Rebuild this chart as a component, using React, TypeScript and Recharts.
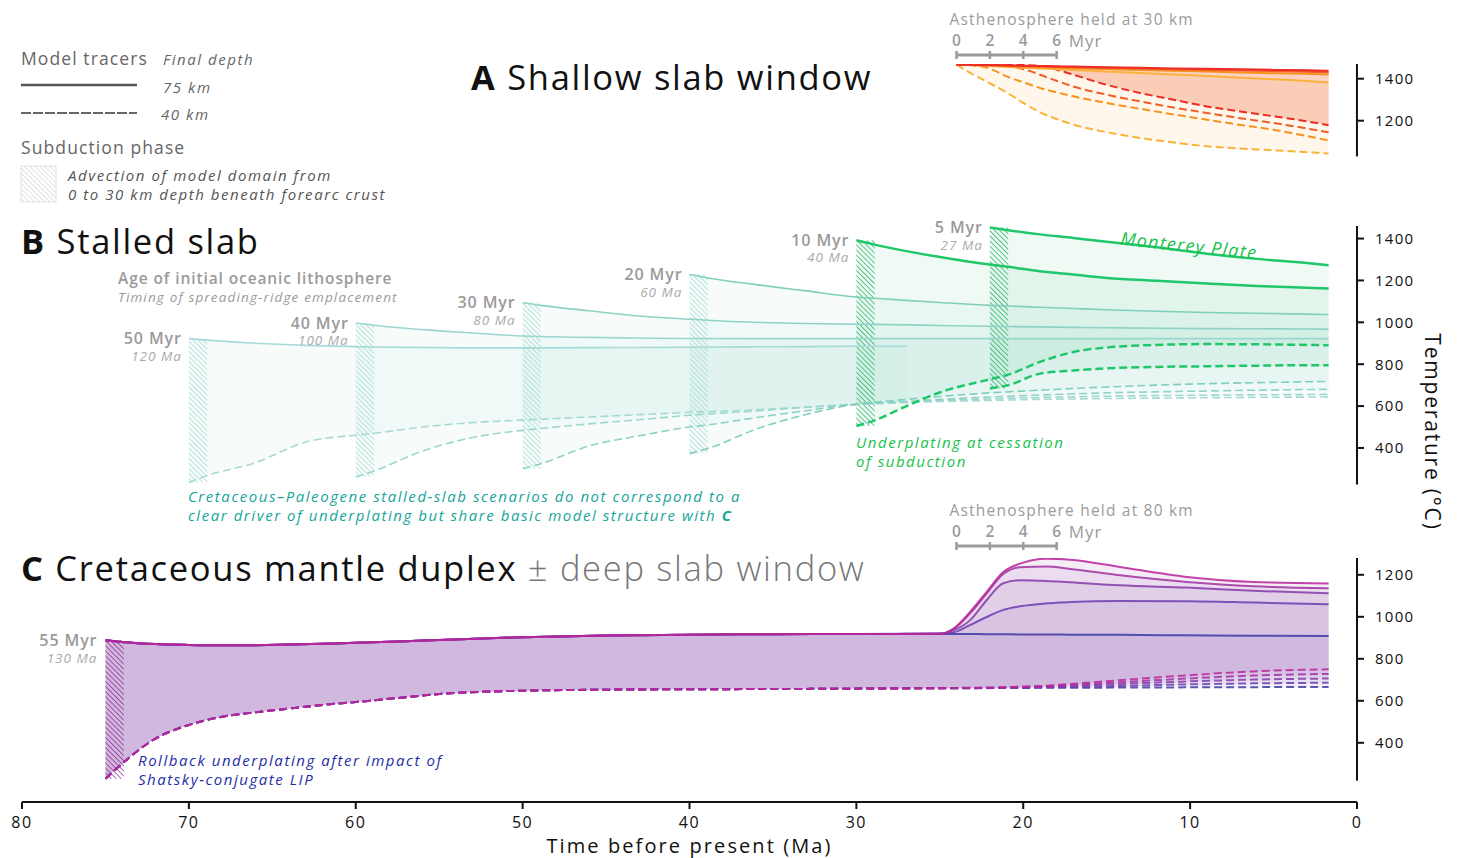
import React from "react";
import { Area, ComposedChart, Line, ReferenceArea, XAxis, YAxis } from "recharts";

const FONT = "'Open Sans', 'Noto Sans', sans-serif";
const W = 1459;
const H = 858;
const PLOT_L = 22;
const PLOT_R = 1357;
const AXIS_W = 80;
const AXIS_Y = 801;
const ADVECT = 1.1; // Myr spent advecting the model domain from 0 to 30 km

const X_TICKS = [80, 70, 60, 50, 40, 30, 20, 10, 0];

// ---- A: shallow slab window (asthenosphere held at 30 km) ----
const A_TIME = [24, 23, 22, 21, 20, 19, 18, 17, 15, 13, 11, 9, 7, 5, 3, 1.7];
const A_RED_75 = [1467, 1466, 1465, 1464, 1462, 1461, 1459, 1458, 1455, 1452, 1449, 1447, 1445, 1442, 1440, 1438];
const A_REDOR_75 = [1467, 1465, 1464, 1462, 1460, 1458, 1456, 1454, 1451, 1448, 1445, 1442, 1439, 1436, 1433, 1430];
const A_ORANGE_75 = [1467, 1465, 1462, 1460, 1457, 1455, 1452, 1450, 1446, 1442, 1438, 1434, 1430, 1426, 1423, 1420];
const A_YELLOW_75 = [1467, 1464, 1460, 1456, 1452, 1449, 1445, 1441, 1434, 1427, 1420, 1413, 1405, 1397, 1389, 1382];
const A_RED_40 = [1467, 1467, 1466, 1466, 1465, 1460, 1443, 1419, 1371, 1332, 1300, 1268, 1244, 1221, 1197, 1178];
const A_REDOR_40 = [1467, 1466, 1465, 1460, 1446, 1419, 1390, 1363, 1324, 1292, 1263, 1237, 1212, 1189, 1163, 1144];
const A_ORANGE_40 = [1467, 1463, 1448, 1411, 1383, 1356, 1335, 1316, 1284, 1257, 1230, 1205, 1180, 1157, 1127, 1106];
const A_YELLOW_40 = [1467, 1420, 1378, 1335, 1285, 1240, 1208, 1181, 1145, 1118, 1096, 1078, 1067, 1059, 1050, 1044];

// ---- B: stalled slab, one scenario per initial plate age ----
const B_TIME = [70, 68.9, 66, 63, 60, 58.9, 56, 53, 50, 48.9, 46, 43, 40, 38.9, 36, 33, 30, 28.9, 27, 25, 22, 20.9, 19, 17, 15, 12, 9, 6, 3, 1.7];
const n = (k: number) => Array(k).fill(null);
const B50_75 = [922, 915, 900, 890, 884, 882, 880, 878, 878, 878, 879, 880, 881, 882, 883, 884, 886, 886, 886, ...n(11)];
const B50_40 = [235, 268, 330, 428, 461, 470, 500, 521, 533, 537, 548, 559, 570, 573, 583, 595, 607, 611, 617, 622, 627, 629, 632, 634, 636, 638, 640, 642, 643, 644];
const B40_75 = [...n(4), 997, 986, 965, 949, 935, 932, 928, 925, 923, 923, 922, 922, 922, 922, 922, 922, 922, 922, 922, 922, 922, 922, 922, 922, 922, 922];
const B40_40 = [...n(4), 261, 290, 385, 450, 484, 493, 515, 535, 556, 562, 577, 594, 609, 613, 620, 627, 634, 637, 641, 644, 647, 650, 652, 654, 655, 656];
const B30_75 = [...n(8), 1094, 1081, 1055, 1030, 1015, 1010, 1000, 994, 991, 990, 988, 985, 981, 980, 978, 976, 974, 972, 970, 969, 968, 967];
const B30_40 = [...n(8), 301, 325, 410, 458, 500, 510, 545, 578, 609, 614, 622, 632, 643, 647, 653, 658, 663, 668, 672, 676, 679, 680];
const B20_75 = [...n(12), 1228, 1212, 1180, 1150, 1121, 1115, 1105, 1095, 1081, 1078, 1072, 1066, 1060, 1053, 1047, 1043, 1039, 1037];
const B20_40 = [...n(12), 373, 397, 490, 560, 609, 618, 632, 646, 663, 668, 676, 684, 691, 700, 707, 712, 716, 718];
const B10_75 = [...n(16), 1392, 1371, 1340, 1312, 1276, 1265, 1244, 1228, 1212, 1198, 1185, 1174, 1165, 1161];
const B10_40 = [...n(16), 505, 532, 600, 665, 728, 750, 811, 858, 880, 892, 896, 895, 892, 890];
const B5_75 = [...n(20), 1453, 1440, 1420, 1403, 1385, 1358, 1328, 1303, 1283, 1272];
const B5_40 = [...n(20), 684, 700, 755, 770, 780, 787, 790, 793, 795, 795];

const B_STARTS = [70, 60, 50, 40, 30, 22];
const B_AGES = ["50 Myr", "40 Myr", "30 Myr", "20 Myr", "10 Myr", "5 Myr"];
const B_RIDGES = ["120 Ma", "100 Ma", "80 Ma", "60 Ma", "40 Ma", "27 Ma"];

// ---- C: Cretaceous mantle duplex, shared trunk then five slab-window runs ----
const C_TRUNK_TIME = [75, 74, 72, 70, 68, 66, 64, 62, 60, 57, 55, 50, 45, 40, 35, 30];
const C_TRUNK_75 = [888, 880, 870, 866, 864, 865, 868, 872, 876, 884, 890, 903, 911, 915, 917, 918];
const C_TRUNK_40 = [229, 301, 420, 485, 524, 545, 563, 580, 594, 617, 632, 648, 653, 655, 656, 658];
const C_SPLIT_TIME = [25, 24.2, 23.2, 22.2, 21.2, 20.2, 18.6, 17.2, 14.2, 10.2, 6.2, 1.7];
const C1_75 = [919, 943, 1022, 1118, 1213, 1253, 1277, 1272, 1237, 1190, 1166, 1158];
const C2_75 = [919, 940, 1015, 1110, 1204, 1236, 1239, 1228, 1198, 1166, 1145, 1136];
const C3_75 = [919, 935, 983, 1079, 1160, 1174, 1171, 1164, 1150, 1139, 1124, 1112];
const C4_75 = [919, 925, 960, 999, 1033, 1050, 1064, 1070, 1075, 1074, 1068, 1060];
const C5_75 = [919, 918, 918, 917, 917, 916, 916, 915, 914, 912, 910, 909];
const C1_40 = [660, 661, 662, 663, 665, 667, 672, 680, 698, 721, 740, 750];
const C2_40 = [660, 661, 661, 662, 663, 665, 669, 675, 688, 706, 720, 728];
const C3_40 = [660, 660, 661, 661, 662, 664, 666, 670, 680, 692, 701, 706];
const C4_40 = [660, 660, 660, 661, 661, 662, 664, 666, 671, 678, 683, 686];
const C5_40 = [660, 660, 660, 660, 661, 661, 662, 662, 663, 664, 665, 666];

// panel geometry
const A_DOM = [1030, 1470];
const A_TOP = 64.3;
const A_H = 92.4;
const B_DOM = [225, 1460];
const B_TOP = 225.7;
const B_H = 258.6;
const C_DOM = [220, 1280];
const C_TOP = 557.7;
const C_H = 222.6;

const xPx = (ma: number) => PLOT_L + ((80 - ma) / 80) * (PLOT_R - PLOT_L);
const yPx = (t: number, top: number, h: number, dom: number[]) => top + ((dom[1] - t) / (dom[1] - dom[0])) * h;
const yB = (t: number) => yPx(t, B_TOP, B_H, B_DOM);
const yC = (t: number) => yPx(t, C_TOP, C_H, C_DOM);

function table(time: number[], cols: Record<string, (number | null)[]>) {
  return time.map((ma, i) => {
    const row: any = { ma };
    for (const k in cols) row[k] = cols[k][i] ?? null;
    return row;
  });
}

const range = (lo: string, hi: string) => (d: any) =>
  d[lo] == null || d[hi] == null ? null : [d[lo], d[hi]];

const A_DATA = table(A_TIME, {
  r75: A_RED_75, ro75: A_REDOR_75, o75: A_ORANGE_75, y75: A_YELLOW_75,
  r40: A_RED_40, ro40: A_REDOR_40, o40: A_ORANGE_40, y40: A_YELLOW_40,
});

const B_DATA = table(B_TIME, {
  b50t: B50_75, b50b: B50_40, b40t: B40_75, b40b: B40_40, b30t: B30_75, b30b: B30_40,
  b20t: B20_75, b20b: B20_40, b10t: B10_75, b10b: B10_40, b5t: B5_75, b5b: B5_40,
});

const C_TIME = [...C_TRUNK_TIME, ...C_SPLIT_TIME];
const C_DATA = table(C_TIME, {
  c1t: [...C_TRUNK_75, ...C1_75], c2t: [...C_TRUNK_75, ...C2_75], c3t: [...C_TRUNK_75, ...C3_75],
  c4t: [...C_TRUNK_75, ...C4_75], c5t: [...C_TRUNK_75, ...C5_75],
  c1b: [...C_TRUNK_40, ...C1_40], c2b: [...C_TRUNK_40, ...C2_40], c3b: [...C_TRUNK_40, ...C3_40],
  c4b: [...C_TRUNK_40, ...C4_40], c5b: [...C_TRUNK_40, ...C5_40],
});

const firstOf = (a: (number | null)[]) => a.find((v) => v != null) as number;

function trace(key: string, color: string, width: number, dashed = false, opacity = 1) {
  return (
    <Line
      key={key}
      dataKey={key}
      type="monotone"
      stroke={color}
      strokeWidth={width}
      strokeOpacity={opacity}
      strokeDasharray={dashed ? "8 4" : undefined}
      dot={false}
      activeDot={false}
      connectNulls={false}
      isAnimationActive={false}
    />
  );
}

function band(key: string, lo: string, hi: string, color: string, opacity: number) {
  return (
    <Area
      key={key}
      dataKey={range(lo, hi)}
      type="monotone"
      stroke="none"
      fill={color}
      fillOpacity={opacity}
      activeDot={false}
      connectNulls={false}
      isAnimationActive={false}
    />
  );
}

function hatch(key: string, start: number, lo: number, hi: number, pattern: string) {
  return (
    <ReferenceArea
      key={key}
      x1={start}
      x2={start - ADVECT}
      y1={lo}
      y2={hi}
      fill={`url(#${pattern})`}
      fillOpacity={1}
      stroke="none"
      ifOverflow="visible"
    />
  );
}

function Panel({ top, plotH, domain, ticks, data, children }: any) {
  const pad = 12;
  return (
    <div style={{ position: "absolute", left: 0, top: top - pad }}>
      <ComposedChart
        width={W}
        height={plotH + pad * 2}
        data={data}
        margin={{ top: pad, right: W - PLOT_R - AXIS_W, bottom: pad, left: PLOT_L }}
      >
        <XAxis dataKey="ma" type="number" domain={[0, 80]} reversed hide allowDataOverflow />
        <YAxis
          orientation="right"
          type="number"
          domain={domain}
          ticks={ticks}
          allowDataOverflow
          width={AXIS_W}
          axisLine={{ stroke: "#111", strokeWidth: 2 }}
          tickLine={{ stroke: "#111", strokeWidth: 2 }}
          tickSize={7}
          tickMargin={11}
          tick={{ fill: "#111", fontSize: 15, fontFamily: FONT, letterSpacing: 1.3 }}
        />
        {children}
      </ComposedChart>
    </div>
  );
}

const A_COL = { r: "#ee2b24", ro: "#f15d2a", o: "#f7921e", y: "#fbb23a" };
const B_TEAL = ["#a6dad6", "#9bd7cf", "#8ed3c6", "#80cfbb"];
const B_GREEN = "#1fc66a";
const C_COL = ["#b8249a", "#a0309f", "#8439a8", "#6a3db0", "#3d3aa5"];
const C_FILL = ["#b06ab8", "#a66ebe", "#a06fc2", "#9a71c6", "#9176c8"];

// text presets
const T_TITLE = { fontSize: 34.5, letterSpacing: 1.7 };
const T_HEAD = { fontSize: 17.5, letterSpacing: 1.1 };
const T_NOTE = { fontSize: 15, letterSpacing: 1.55, fontStyle: "italic" };

function ScaleBar({ y, title }: { y: number; title: string }) {
  const x0 = xPx(24);
  const grey = "#9b9b9b";
  return (
    <g>
      <text x={x0 - 7} y={y - 36} fontSize={15.5} letterSpacing={1.2} fill={grey} dominantBaseline="central">{title}</text>
      {[0, 2, 4, 6].map((k) => (
        <g key={k}>
          <text x={xPx(24 - k)} y={y - 15} fontSize={15.5} fontWeight={600} fill={grey} textAnchor="middle" dominantBaseline="central">{k}</text>
          <line x1={xPx(24 - k)} x2={xPx(24 - k)} y1={y - 4} y2={y + 4} stroke={grey} strokeWidth={2.5} />
        </g>
      ))}
      <text x={xPx(18) + 12} y={y - 15} fontSize={17} letterSpacing={1} fill={grey} dominantBaseline="central">Myr</text>
      <line x1={x0} x2={xPx(18)} y1={y} y2={y} stroke={grey} strokeWidth={3} />
    </g>
  );
}

function Overlay() {
  const grey = "#9a9a9a";
  const bTops = [B50_75, B40_75, B30_75, B20_75, B10_75, B5_75].map(firstOf);
  return (
    <svg width={W} height={H} style={{ position: "absolute", left: 0, top: 0, pointerEvents: "none" }} fontFamily={FONT}>
      {/* legend */}
      <text x={21} y={58} {...T_HEAD} fill="#666" dominantBaseline="central">Model tracers</text>
      <text x={163} y={59} {...T_NOTE} fill="#666" dominantBaseline="central">Final depth</text>
      <line x1={21} x2={137} y1={85} y2={85} stroke="#555" strokeWidth={2.5} />
      <text x={163} y={87} {...T_NOTE} fill="#666" dominantBaseline="central">75 km</text>
      <line x1={21} x2={137} y1={113} y2={113} stroke="#666" strokeWidth={2} strokeDasharray="10 2" />
      <text x={161} y={114} {...T_NOTE} fill="#666" dominantBaseline="central">40 km</text>
      <text x={21} y={147} {...T_HEAD} fill="#666" dominantBaseline="central">Subduction phase</text>
      <rect x={21} y={166} width={35} height={36} fill="url(#hatchGrey)" stroke="#e2e2e2" strokeWidth={1} />
      <text x={68} y={175} {...T_NOTE} fill="#555" dominantBaseline="central">Advection of model domain from</text>
      <text x={68} y={194} {...T_NOTE} fill="#555" dominantBaseline="central">0 to 30 km depth beneath forearc crust</text>

      {/* panel A */}
      <text x={471} y={76} {...T_TITLE} fill="#111" dominantBaseline="central">
        <tspan fontWeight={700}>A</tspan> Shallow slab window
      </text>
      <ScaleBar y={55} title="Asthenosphere held at 30 km" />

      {/* panel B */}
      <text x={21} y={240} {...T_TITLE} fill="#111" dominantBaseline="central">
        <tspan fontWeight={700}>B</tspan> Stalled slab
      </text>
      <text x={118} y={278} fontSize={15.5} letterSpacing={0.9} fontWeight={600} fill={grey} dominantBaseline="central">Age of initial oceanic lithosphere</text>
      <text x={118} y={297} fontSize={13.5} letterSpacing={1.15} fontStyle="italic" fill={grey} dominantBaseline="central">Timing of spreading-ridge emplacement</text>
      {B_STARTS.map((s, i) => (
        <g key={s}>
          <text x={xPx(s) - 7} y={yB(bTops[i])} fontSize={16} letterSpacing={0.9} fontWeight={600} fill={grey} textAnchor="end" dominantBaseline="central">{B_AGES[i]}</text>
          <text x={xPx(s) - 7} y={yB(bTops[i]) + 17.5} fontSize={13.5} letterSpacing={1} fontStyle="italic" fill="#aaa" textAnchor="end" dominantBaseline="central">{B_RIDGES[i]}</text>
        </g>
      ))}
      <text x={1189} y={245} fontSize={18} letterSpacing={1.3} fontStyle="italic" fill="#18c24c" textAnchor="middle" dominantBaseline="central" transform="rotate(6 1189 245)">Monterey Plate</text>
      <text x={856} y={442} {...T_NOTE} fill="#18c24c" dominantBaseline="central">Underplating at cessation</text>
      <text x={856} y={461} {...T_NOTE} fill="#18c24c" dominantBaseline="central">of subduction</text>
      <text x={188} y={496} {...T_NOTE} fill="#16a59a" dominantBaseline="central">Cretaceous–Paleogene stalled-slab scenarios do not correspond to a</text>
      <text x={188} y={515} {...T_NOTE} fill="#16a59a" dominantBaseline="central">
        clear driver of underplating but share basic model structure with <tspan fontWeight={700}>C</tspan>
      </text>
      <text x={1433} y={432} fontSize={21} letterSpacing={1.8} fill="#111" textAnchor="middle" dominantBaseline="central" transform="rotate(90 1433 432)">Temperature (°C)</text>

      {/* panel C */}
      <text x={21} y={567} {...T_TITLE} fill="#111" dominantBaseline="central">
        <tspan fontWeight={700}>C</tspan> Cretaceous mantle duplex <tspan fill="#777" fontWeight={300}>± deep slab window</tspan>
      </text>
      <ScaleBar y={546} title="Asthenosphere held at 80 km" />
      <text x={xPx(75) - 8} y={yC(C_TRUNK_75[0])} fontSize={16} letterSpacing={0.9} fontWeight={600} fill={grey} textAnchor="end" dominantBaseline="central">55 Myr</text>
      <text x={xPx(75) - 8} y={yC(C_TRUNK_75[0]) + 17.5} fontSize={13.5} letterSpacing={1} fontStyle="italic" fill="#aaa" textAnchor="end" dominantBaseline="central">130 Ma</text>
      <text x={138} y={760} {...T_NOTE} fill="#1d2ea6" dominantBaseline="central">Rollback underplating after impact of</text>
      <text x={138} y={779} {...T_NOTE} fill="#1d2ea6" dominantBaseline="central">Shatsky-conjugate LIP</text>

      <text x={xPx(40)} y={845} fontSize={20} letterSpacing={2.1} fill="#111" textAnchor="middle" dominantBaseline="central">Time before present (Ma)</text>
    </svg>
  );
}

function Patterns() {
  const p = (id: string, color: string, w: number) => (
    <pattern id={id} width={3.6} height={3.6} patternUnits="userSpaceOnUse" patternTransform="rotate(-45)">
      <line x1={0} y1={0} x2={0} y2={3.6} stroke={color} strokeWidth={w} />
    </pattern>
  );
  return (
    <svg width={0} height={0} style={{ position: "absolute" }}>
      <defs>
        {p("hatchGrey", "#cfcfcf", 1.2)}
        {p("hatchTeal", "#9fd9d1", 1.4)}
        {p("hatchGreen", "#27b566", 1.5)}
        {p("hatchPurple", "#8f2b8f", 1.5)}
      </defs>
    </svg>
  );
}

export default function App() {
  const bPairs = [
    ["b50", 70, B50_40, B50_75],
    ["b40", 60, B40_40, B40_75],
    ["b30", 50, B30_40, B30_75],
    ["b20", 40, B20_40, B20_75],
  ] as const;
  return (
    <div style={{ position: "fixed", left: 0, top: 0, width: W, height: H, background: "#fff", fontFamily: FONT, overflow: "hidden" }}>
      <Patterns />

      <Panel top={A_TOP} plotH={A_H} domain={A_DOM} ticks={[1200, 1400]} data={A_DATA}>
        {band("ay", "y40", "y75", A_COL.y, 0.1)}
        {band("ar", "r40", "r75", "#f26a3c", 0.3)}
        {trace("y40", A_COL.y, 2, true)}
        {trace("o40", A_COL.o, 2, true)}
        {trace("ro40", A_COL.ro, 2, true)}
        {trace("r40", A_COL.r, 2, true)}
        {trace("y75", A_COL.y, 2)}
        {trace("o75", A_COL.o, 2)}
        {trace("ro75", A_COL.ro, 2)}
        {trace("r75", A_COL.r, 2)}
      </Panel>

      <Panel top={B_TOP} plotH={B_H} domain={B_DOM} ticks={[400, 600, 800, 1000, 1200, 1400]} data={B_DATA}>
        {bPairs.map(([k]) => band(`${k}f`, `${k}b`, `${k}t`, "#6fcbbd", 0.06))}
        {band("b10f", "b10b", "b10t", "#3cc47f", 0.08)}
        {band("b5f", "b5b", "b5t", "#3cc47f", 0.08)}
        {bPairs.map(([k, s, lo, hi]) => hatch(`${k}h`, s, firstOf(lo), firstOf(hi), "hatchTeal"))}
        {hatch("b10h", 30, firstOf(B10_40), firstOf(B10_75), "hatchGreen")}
        {hatch("b5h", 22, firstOf(B5_40), firstOf(B5_75), "hatchGreen")}
        {bPairs.map(([k], i) => trace(`${k}b`, B_TEAL[i], 1.6, true))}
        {bPairs.map(([k], i) => trace(`${k}t`, B_TEAL[i], 1.6))}
        {trace("b10b", B_GREEN, 2.5, true)}
        {trace("b5b", B_GREEN, 2.5, true)}
        {trace("b10t", B_GREEN, 2.5)}
        {trace("b5t", B_GREEN, 2.5)}
      </Panel>

      <Panel top={C_TOP} plotH={C_H} domain={C_DOM} ticks={[400, 600, 800, 1000, 1200]} data={C_DATA}>
        {[5, 4, 3, 2, 1].map((i) => band(`c${i}f`, `c${i}b`, `c${i}t`, C_FILL[i - 1], 0.12))}
        {hatch("ch", 75, C_TRUNK_40[0], C_TRUNK_75[0], "hatchPurple")}
        {[5, 4, 3, 2, 1].map((i) => trace(`c${i}b`, C_COL[i - 1], 2, true, 0.85))}
        {[5, 4, 3, 2, 1].map((i) => trace(`c${i}t`, C_COL[i - 1], 2, false, 0.85))}
      </Panel>

      <div style={{ position: "absolute", left: 0, top: AXIS_Y - 10 }}>
        <ComposedChart
          width={W}
          height={70}
          data={X_TICKS.map((ma) => ({ ma }))}
          margin={{ top: 10, right: W - PLOT_R, bottom: 0, left: PLOT_L }}
        >
          <XAxis
            dataKey="ma"
            type="number"
            domain={[0, 80]}
            reversed
            ticks={X_TICKS}
            height={59}
            allowDataOverflow
            axisLine={{ stroke: "#111", strokeWidth: 2 }}
            tickLine={{ stroke: "#111", strokeWidth: 2 }}
            tickSize={7}
            tickMargin={8}
            tick={{ fill: "#111", fontSize: 16, fontFamily: FONT, letterSpacing: 1.5 }}
          />
          <YAxis hide domain={[0, 1]} />
        </ComposedChart>
      </div>

      <Overlay />
    </div>
  );
}
